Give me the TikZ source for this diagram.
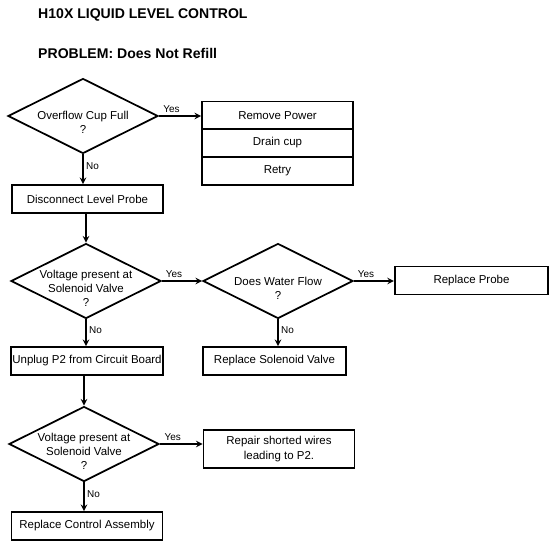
\documentclass[tikz,border=0pt]{standalone}
\usepackage{fontspec}
\setmainfont{Liberation Sans}
\usetikzlibrary{shapes.geometric}

\begin{document}
\begin{tikzpicture}[
  x=0.3mm, y=-0.3mm,
  >=stealth,
  font=\fontsize{9.8}{12}\selectfont,
  decision/.style={
  	draw,
  	diamond,
  	line width=1.5pt,
  	minimum width=45mm,
  	minimum height=22.5mm,
  	inner sep=0pt
  },
  ask/.style={
  	align=center,
  	inner sep=0pt
  },
  action/.style={
  	draw,
  	rectangle,
  	line width=1.5pt,
  	minimum width=45.3mm,
  	minimum height=8.4mm,
  	inner sep=1pt
  },
  flow/.style={
  	->,
  	line width=1.5pt
  },
  answer/.style={
  	font=\fontsize{8.5}{10}\selectfont,
  	inner sep=2pt
  },
  heading/.style={
  	anchor=west,
  	font=\fontsize{12}{14}\selectfont\bfseries,
  	inner sep=0pt
  }
  ]
  \useasboundingbox (0,0) rectangle (551,545);

  \node[heading] (title) at (38,15) {H10X LIQUID LEVEL CONTROL};
  \node[heading] (problem) at (38,53) {PROBLEM: Does Not Refill};

  \foreach \n/\x/\y in {d1/83/116,d2/86/281,d3/278/281,d4/84/444}
  \node[decision] (\n) at (\x,\y) {};

  \node[ask] (d1t) at ([yshift=-1.8mm]d1) {Overflow Cup Full\\?};
  \node[ask] (d2t) at ([yshift=-2.3mm]d2) {Voltage present at\\Solenoid Valve\\?};
  \node[ask] (d3t) at ([yshift=-2.1mm]d3) {Does Water Flow\\?};
  \node[ask] (d4t) at ([yshift=-2.3mm]d4) {Voltage present at\\Solenoid Valve\\?};

  \node[action] (rp) at (277.5,115.5) {Remove Power};
  \node[action] (dc) at (277.5,143) {Drain cup};
  \node[action] (rt) at (277.5,171) {Retry};

  \node[action] (dlp) at (87.5,199) {Disconnect Level Probe};
  \node[action] (up) at (87,361) {Unplug P2 from Circuit Board};
  \node[action] (rca) at (87,526) {Replace Control Assembly};
  \node[action,minimum width=43mm] (rsv) at (274.5,361) {Replace Solenoid Valve};
  \node[action,minimum width=46mm] (prb) at (471.5,280.5) {Replace Probe};
  \node[action,minimum height=11.4mm,align=center] (rw) at (279,449)
    {Repair shorted wires\\leading to P2.};

  \draw[flow] (d1.east) -- node[answer,pos=0.3,above] {Yes} (d1.east -| rp.west);
  \draw[flow] (d1.south) -- node[answer,pos=0.4,right] {No} (d1.south |- dlp.north);
  \draw[flow] (d2.north |- dlp.south) -- (d2.north);
  \draw[flow] (d2.east) -- node[answer,pos=0.3,above] {Yes} (d3.west);
  \draw[flow] (d2.south) -- node[answer,pos=0.4,right] {No} (d2.south |- up.north);
  \draw[flow] (d3.east) -- node[answer,pos=0.3,above] {Yes} (d3.east -| prb.west);
  \draw[flow] (d3.south) -- node[answer,pos=0.4,right] {No} (d3.south |- rsv.north);
  \draw[flow] (d4.north |- up.south) -- (d4.north);
  \draw[flow] (d4.east) -- node[answer,pos=0.3,above] {Yes} (d4.east -| rw.west);
  \draw[flow] (d4.south) -- node[answer,pos=0.4,right] {No} (d4.south |- rca.north);

\end{tikzpicture}
\end{document}
